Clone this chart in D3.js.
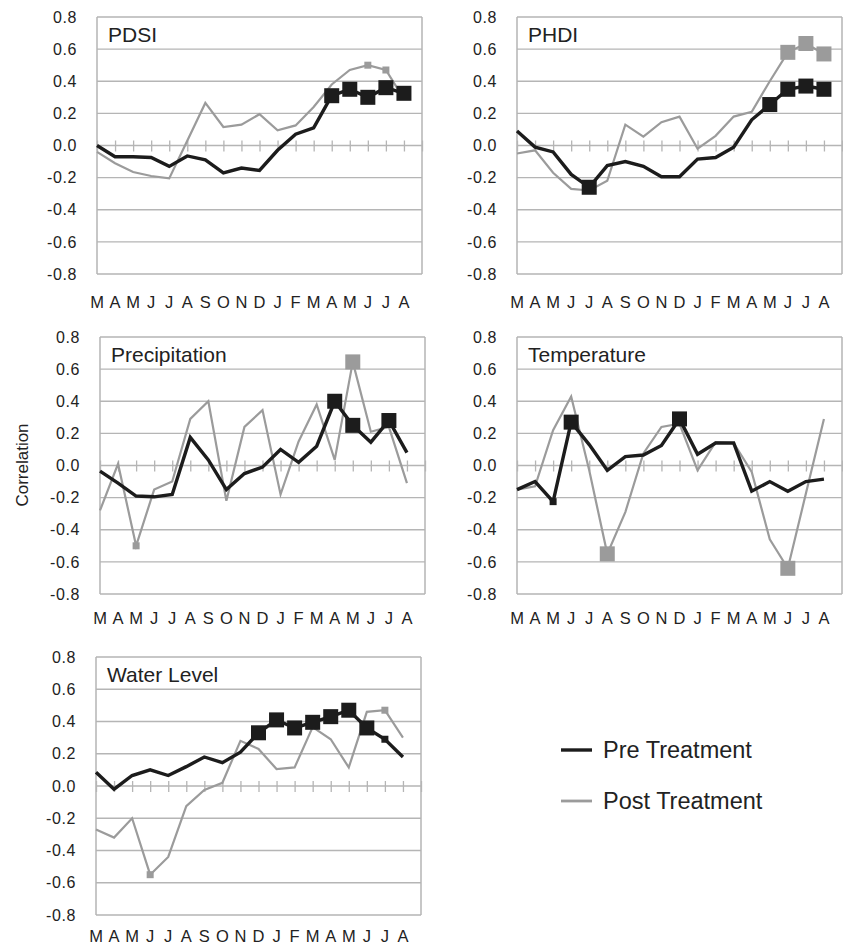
<!DOCTYPE html>
<html><head><meta charset="utf-8">
<script src="https://cdn.jsdelivr.net/npm/d3@7/dist/d3.min.js"></script>
<style>
body{margin:0;background:#fff;}
svg{display:block;font-family:"Liberation Sans",Arial,Helvetica,sans-serif;}
</style></head>
<body><svg id="c" width="843" height="946"></svg>
<script>
// ---- data ----
const months = ["M","A","M","J","J","A","S","O","N","D","J","F","M","A","M","J","J","A"];
const yTicks = [-0.8,-0.6,-0.4,-0.2,0,0.2,0.4,0.6,0.8];

const pdsiPre  = [0,-0.07,-0.07,-0.075,-0.13,-0.065,-0.09,-0.17,-0.14,-0.155,-0.03,0.07,0.11,0.31,0.35,0.30,0.36,0.325];
const pdsiPost = [-0.04,-0.11,-0.165,-0.19,-0.205,0.03,0.265,0.115,0.13,0.195,0.095,0.125,0.24,0.38,0.47,0.50,0.47,0.29];
const pdsiPreBig = [13,14,15,16,17], pdsiPreSmall = [], pdsiPostBig = [], pdsiPostSmall = [15,16];

const phdiPre  = [0.09,-0.01,-0.04,-0.18,-0.26,-0.125,-0.10,-0.13,-0.195,-0.195,-0.085,-0.075,-0.01,0.16,0.255,0.35,0.37,0.35];
const phdiPost = [-0.05,-0.03,-0.17,-0.27,-0.28,-0.22,0.13,0.055,0.145,0.18,-0.02,0.06,0.18,0.21,0.40,0.58,0.635,0.57];
const phdiPreBig = [4,14,15,16,17], phdiPreSmall = [], phdiPostBig = [15,16,17], phdiPostSmall = [];

const precipPre  = [-0.035,-0.11,-0.19,-0.195,-0.18,0.175,0.035,-0.15,-0.05,-0.01,0.10,0.02,0.12,0.40,0.25,0.145,0.28,0.08];
const precipPost = [-0.28,0.01,-0.50,-0.15,-0.10,0.29,0.40,-0.22,0.24,0.345,-0.18,0.15,0.38,0.035,0.645,0.21,0.24,-0.11];
const precipPreBig = [13,14,16], precipPreSmall = [], precipPostBig = [14], precipPostSmall = [2];

const tempPre  = [-0.15,-0.10,-0.225,0.27,0.13,-0.03,0.055,0.065,0.125,0.29,0.07,0.14,0.14,-0.16,-0.10,-0.16,-0.10,-0.085];
const tempPost = [-0.15,-0.13,0.22,0.43,-0.03,-0.55,-0.29,0.075,0.24,0.26,-0.03,0.145,0.14,-0.04,-0.46,-0.64,-0.175,0.29];
const tempPreBig = [3,9], tempPreSmall = [2], tempPostBig = [5,15], tempPostSmall = [];

const waterPre  = [0.085,-0.02,0.065,0.10,0.065,0.12,0.18,0.145,0.21,0.33,0.41,0.36,0.395,0.43,0.47,0.36,0.29,0.18];
const waterPost = [-0.27,-0.32,-0.20,-0.55,-0.44,-0.125,-0.025,0.02,0.28,0.23,0.105,0.115,0.365,0.29,0.115,0.46,0.47,0.30];
const waterPreBig = [9,10,11,12,13,14,15], waterPreSmall = [16], waterPostBig = [], waterPostSmall = [3,16];

const seriesNames = ["Pre Treatment","Post Treatment"];

// ---- layout ----
const panels = [
  {title:"PDSI", pre:pdsiPre, post:pdsiPost, preBig:pdsiPreBig, preSmall:pdsiPreSmall, postBig:pdsiPostBig, postSmall:pdsiPostSmall, left:97, top:17, bottom:274, lab:34},
  {title:"PHDI", pre:phdiPre, post:phdiPost, preBig:phdiPreBig, preSmall:phdiPreSmall, postBig:phdiPostBig, postSmall:phdiPostSmall, left:517, top:17, bottom:274, lab:34},
  {title:"Precipitation", pre:precipPre, post:precipPost, preBig:precipPreBig, preSmall:precipPreSmall, postBig:precipPostBig, postSmall:precipPostSmall, left:100, top:337, bottom:594, lab:30},
  {title:"Temperature", pre:tempPre, post:tempPost, preBig:tempPreBig, preSmall:tempPreSmall, postBig:tempPostBig, postSmall:tempPostSmall, left:517, top:337, bottom:594, lab:30},
  {title:"Water Level", pre:waterPre, post:waterPost, preBig:waterPreBig, preSmall:waterPreSmall, postBig:waterPostBig, postSmall:waterPostSmall, left:96, top:657, bottom:915, lab:27}
];
const W = 325;
const BLACK = "#1c1c1c", GREY = "#9b9b9b", GRID = "#b5b5b5", TXT = "#222";

const svg = d3.select("#c");

panels.forEach(p => {
  const g = svg.append("g");
  const x = d3.scaleLinear().domain([0, months.length]).range([p.left, p.left + W]);
  const y = d3.scaleLinear().domain([-0.8, 0.8]).range([p.bottom, p.top]);

  g.selectAll("line.grid").data(yTicks).join("line")
    .attr("x1", p.left).attr("x2", p.left + W)
    .attr("y1", d => y(d)).attr("y2", d => y(d))
    .attr("stroke", GRID).attr("stroke-width", 1.3);
  [p.left, p.left + W].forEach(xx => g.append("line")
    .attr("x1", xx).attr("x2", xx).attr("y1", p.top).attr("y2", p.bottom)
    .attr("stroke", GRID).attr("stroke-width", 1.5));

  const ya = d3.axisLeft(y).tickValues(yTicks).tickSize(0).tickPadding(20)
    .tickFormat(d => d.toFixed(1));
  const yg = g.append("g").attr("transform", `translate(${p.left},0)`).call(ya);
  yg.select(".domain").remove();
  yg.selectAll("text").attr("font-size", 16).attr("fill", TXT)
    .attr("font-family", "'Liberation Sans',Arial,sans-serif").style("letter-spacing", "0.6px");

  const xa = d3.axisBottom(x).tickValues(d3.range(0, months.length + 1)).tickSize(11).tickFormat("");
  const xg = g.append("g").attr("transform", `translate(0,${y(0) - 5})`).call(xa);
  xg.select(".domain").remove();
  xg.selectAll("line").attr("stroke", GRID).attr("stroke-width", 1.3);

  g.selectAll("text.m").data(months).join("text")
    .attr("x", (d, i) => x(i)).attr("y", p.bottom + p.lab)
    .attr("text-anchor", "middle").attr("font-size", 16.5).attr("fill", TXT).text(d => d);

  g.append("text").attr("x", p.left + 11).attr("y", p.top + 25)
    .attr("font-size", 21).attr("fill", TXT).text(p.title);

  const line = d3.line().x((d, i) => x(i)).y(d => y(d));
  g.append("path").attr("d", line(p.post)).attr("fill", "none")
    .attr("stroke", GREY).attr("stroke-width", 2.2).attr("stroke-linejoin", "miter");
  g.append("path").attr("d", line(p.pre)).attr("fill", "none")
    .attr("stroke", BLACK).attr("stroke-width", 3.4).attr("stroke-linejoin", "miter");

  const sq = (arr, vals, s, col) => g.selectAll(null).data(arr).join("rect")
    .attr("x", i => x(i) - s / 2).attr("y", i => y(vals[i]) - s / 2)
    .attr("width", s).attr("height", s).attr("fill", col);
  sq(p.postSmall, p.post, 7, GREY);
  sq(p.preSmall, p.pre, 7, BLACK);
  sq(p.postBig, p.post, 15, GREY);
  sq(p.preBig, p.pre, 15, BLACK);
});

svg.append("text").attr("transform", "translate(28,465) rotate(-90)")
  .attr("text-anchor", "middle").attr("font-size", 17).attr("fill", TXT).text("Correlation");

const leg = svg.append("g");
[[BLACK, 3.4, 750], [GREY, 2.8, 801]].forEach((d, i) => {
  leg.append("line").attr("x1", 561).attr("x2", 592).attr("y1", d[2]).attr("y2", d[2])
    .attr("stroke", d[0]).attr("stroke-width", d[1]);
  leg.append("text").attr("x", 603).attr("y", d[2] + 8).attr("font-size", 23.5)
    .attr("fill", TXT).text(seriesNames[i]);
});
</script></body></html>
